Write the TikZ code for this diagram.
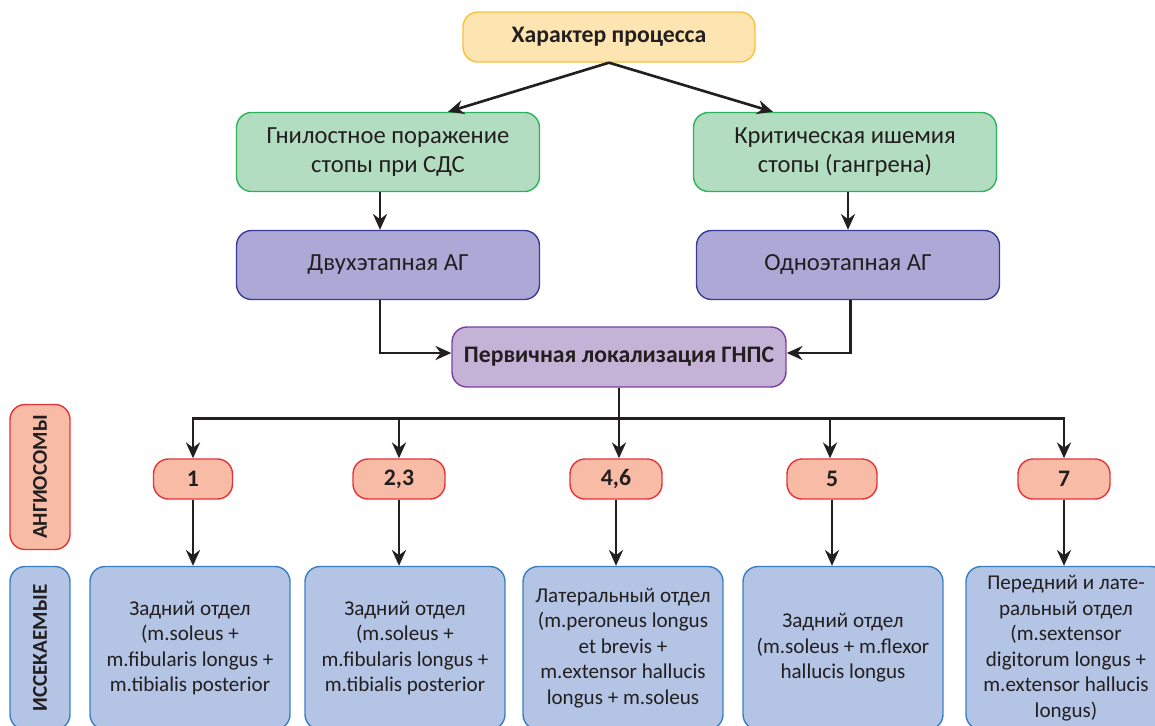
\documentclass[tikz,border=0pt]{standalone}
\usepackage{fontspec}
\setmainfont{Carlito}
\usepackage{xcolor}
\usetikzlibrary{arrows.meta, positioning, calc}

\definecolor{txt}{HTML}{231F20}
\definecolor{yelfill}{HTML}{FDE5B2}
\definecolor{yeldraw}{HTML}{F8C23A}
\definecolor{grnfill}{HTML}{B3DDC0}
\definecolor{grndraw}{HTML}{2DB45A}
\definecolor{prpfill}{HTML}{ADA8D5}
\definecolor{prpdraw}{HTML}{3C3A9A}
\definecolor{locfill}{HTML}{C4B3D6}
\definecolor{locdraw}{HTML}{7B3FA1}
\definecolor{angfill}{HTML}{F8BCA6}
\definecolor{angdraw}{HTML}{E63338}
\definecolor{musfill}{HTML}{B4C4E4}
\definecolor{musdraw}{HTML}{3A7FC3}

\begin{document}
\begin{tikzpicture}[
    x=0.02cm, y=-0.02cm,
    box/.style={draw, rectangle, rounded corners=0.3cm, align=center, text=txt, inner sep=2pt, line width=0.8pt},
    head/.style={box, fill=yelfill, draw=yeldraw, minimum width=5.84cm, minimum height=1cm, font=\fontsize{13.5}{15}\selectfont\bfseries},
    case/.style={box, fill=grnfill, draw=grndraw, minimum width=6.06cm, minimum height=1.58cm, font=\fontsize{14}{16.5}\selectfont},
    surg/.style={box, fill=prpfill, draw=prpdraw, minimum width=6.06cm, minimum height=1.38cm, font=\fontsize{14}{16.5}\selectfont},
    loc/.style={box, fill=locfill, draw=locdraw, minimum width=6.68cm, minimum height=1.2cm, font=\fontsize{13.5}{15}\selectfont\bfseries},
    angio/.style={box, fill=angfill, draw=angdraw, minimum width=1.84cm, minimum height=0.8cm, font=\fontsize{13.5}{15}\selectfont\bfseries},
    muscle/.style={box, fill=musfill, draw=musdraw, minimum width=4cm, minimum height=3.26cm, font=\fontsize{12}{14.5}\selectfont},
    side/.style={box, rotate=90, minimum height=1.2cm, font=\fontsize{12}{14}\selectfont\bfseries},
    arrow/.style={line width=1.5pt, -{Stealth[length=9pt,width=8pt]}, draw=txt}
]
\useasboundingbox (0,0) rectangle (1155,726);

% Top of the tree
\node[head] (proc) at (609,37) {Характер процесса};

% Clinical cases
\node[case] (rot) at (388,152) {Гнилостное поражение\\стопы при СДС};
\node[case] (isch) at (845,152) {Критическая ишемия\\стопы (гангрена)};

% Surgery type
\node[surg] (two) at (388,265) {Двухэтапная АГ};
\node[surg] (one) at (848,265) {Одноэтапная АГ};

% Primary localisation
\node[loc] (prim) at (619,357) {Первичная локализация ГНПС};

% Row captions
\node[side, fill=angfill, draw=angdraw, minimum width=2.9cm] (angcap) at (40,477) {АНГИОСОМЫ};
\node[side, fill=musfill, draw=musdraw, minimum width=3.26cm] (muscap) at (40,648) {ИССЕКАЕМЫЕ};

% Angiosomes
\node[angio, minimum width=1.58cm] (a1) at (193,479) {1};
\node[angio] (a23) at (399,479) {2,3};
\node[angio] (a46) at (616,479) {4,6};
\node[angio, minimum width=1.8cm] (a5) at (832,479) {5};
\node[angio] (a7) at (1064,479) {7};

% Excised muscles
\node[muscle] (m1) at (190,648)
  {Задний отдел\\(m.soleus +\\m.fibularis longus +\\m.tibialis posterior};
\node[muscle] (m23) at (405,648)
  {Задний отдел\\(m.soleus +\\m.fibularis longus +\\m.tibialis posterior};
\node[muscle] (m46) at (623,648)
  {Латеральный отдел\\(m.peroneus longus\\et brevis +\\m.extensor hallucis\\longus + m.soleus};
\node[muscle] (m5) at (843,648)
  {Задний отдел\\(m.soleus + m.flexor\\hallucis longus};
\node[muscle] (m7) at (1066,648)
  {Передний и лате-\\ральный отдел\\(m.sextensor\\digitorum longus +\\m.extensor hallucis\\longus)};

\draw[arrow] (proc.south) -- ([xshift=1.2cm]rot.north);
\draw[arrow] (proc.south) -- ([xshift=-1.44cm]isch.north);
\draw[arrow] ([xshift=-0.16cm]rot.south) -- ([xshift=-0.16cm]two.north);
\draw[arrow] (isch.south -| one) -- (one.north);
\draw[arrow] ([xshift=-0.16cm]two.south) |- ([yshift=0.08cm]prim.west);
\draw[arrow] ([xshift=0.05cm]one.south) |- ([yshift=0.08cm]prim.east);

\draw[arrow] (prim.south) -- ++(0,31) -| (a1.north);
\draw[arrow] (prim.south) -- ++(0,31) -| (a23.north);
\draw[arrow] (prim.south) -- ++(0,31) -| ([xshift=0.06cm]a46.north);
\draw[arrow] (prim.south) -- ++(0,31) -| ([xshift=-0.04cm]a5.north);
\draw[arrow] (prim.south) -- ++(0,31) -| (a7.north);

\draw[arrow] (a1.south) -- (a1.south |- m1.north);
\draw[arrow] (a23.south) -- (a23.south |- m23.north);
\draw[arrow] (a46.south) -- (a46.south |- m46.north);
\draw[arrow] (a5.south) -- (a5.south |- m5.north);
\draw[arrow] (a7.south) -- (a7.south |- m7.north);
\end{tikzpicture}
\end{document}
